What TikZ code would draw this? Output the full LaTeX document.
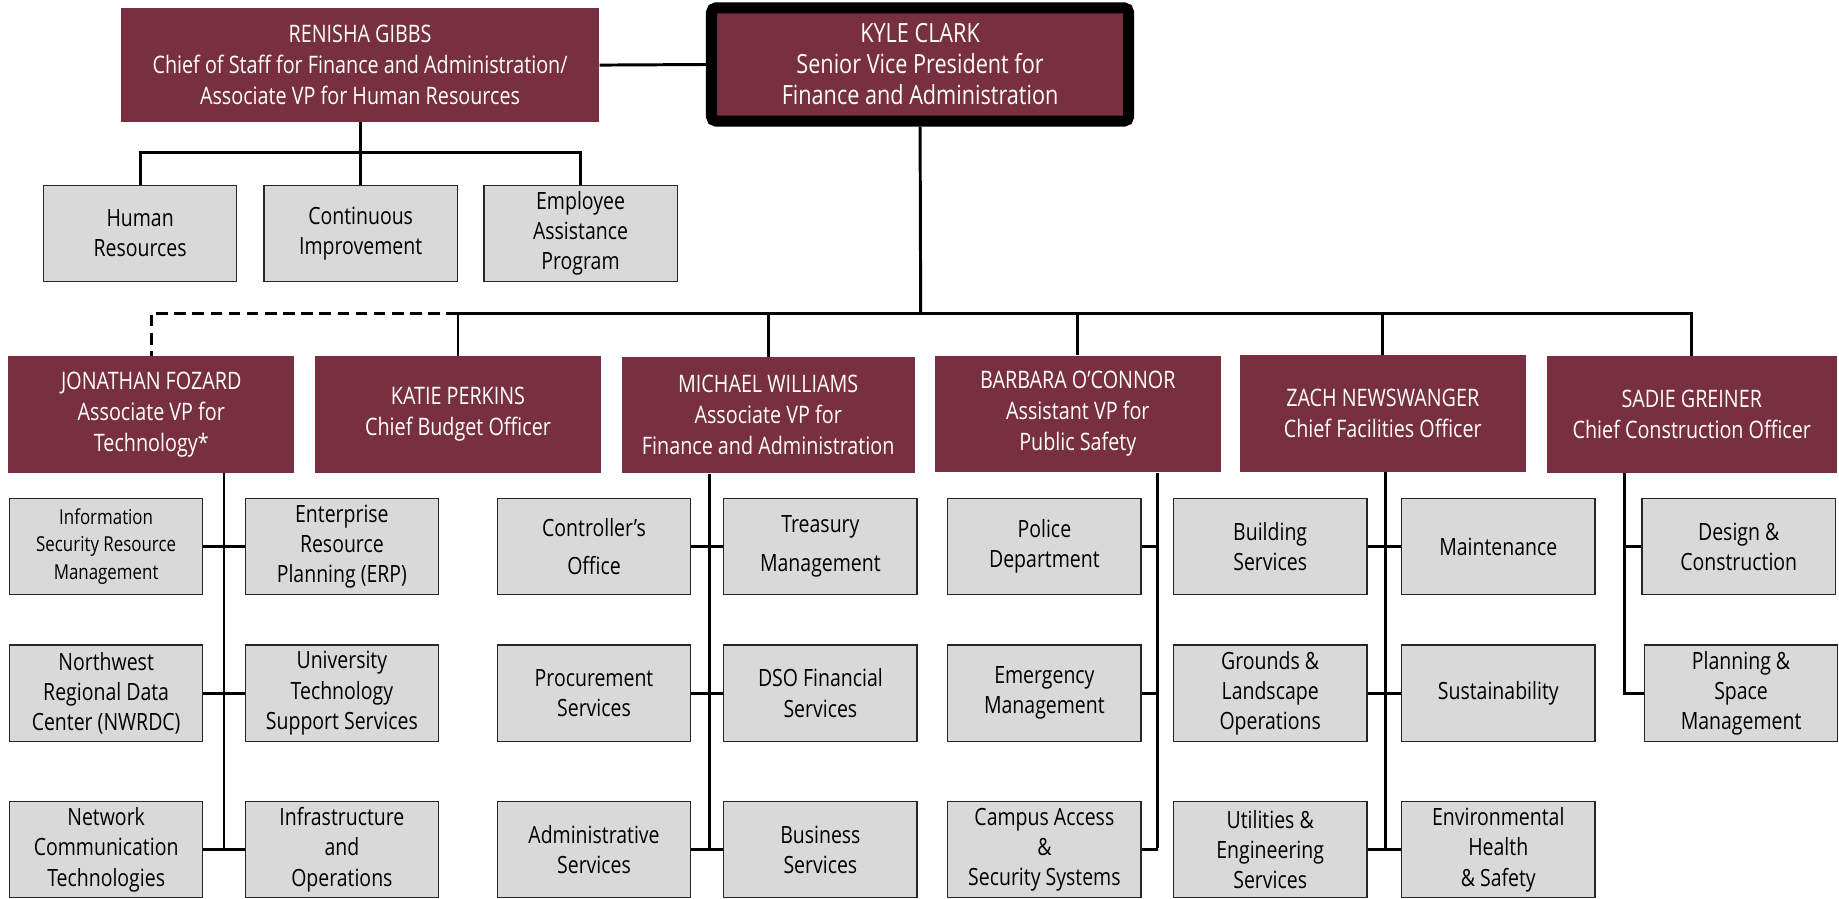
\documentclass[tikz,border=0pt]{standalone}
\usepackage{fontspec}
\setmainfont{Open Sans}[FakeStretch=0.82]
\usepackage{tikz}
\definecolor{garnet}{HTML}{782F40}
\definecolor{deptgray}{HTML}{D9D9D9}
\tikzstyle{head}=[fill=garnet,text=white,align=center,inner sep=0pt,font=\fontsize{14.6}{18.8}\selectfont]
\tikzstyle{boss}=[head,minimum width=10.2cm,minimum height=2.42cm]
\tikzstyle{svp}=[head,draw=black,line width=0.235cm,rounded corners=0.1cm,minimum width=8.89cm,minimum height=2.415cm,font=\fontsize{16}{18.8}\selectfont]
\tikzstyle{mgr}=[head,minimum width=6.1cm,minimum height=2.48cm]
\tikzstyle{dept}=[draw=black!85,fill=deptgray,line width=0.8pt,align=center,inner sep=0pt,minimum width=4.12cm,minimum height=2.05cm,font=\fontsize{14.4}{18.3}\selectfont]
\tikzstyle{link}=[line width=1.8pt,black]
\tikzstyle{dashlink}=[link,dash pattern=on 7pt off 4pt]

\begin{document}
\begin{tikzpicture}[x=0.025cm,y=-0.025cm]
\useasboundingbox (0,0) rectangle (1568,766);

% top level
\node[boss] (gibbs) at (307,55.5) {RENISHA GIBBS\\Chief of Staff for Finance and Administration/\\Associate VP for Human Resources};
\node[svp] (clark) at (784.5,55) {KYLE CLARK\\Senior Vice President for\\Finance and Administration};
\foreach \place/\name/\txt in {{(119.5,199)/hr/Human\\Resources}, {(307.5,199)/ci/Continuous\\Improvement},
  {(495,199)/eap/Employee\\Assistance\\Program}}
    \node[dept] (\name) at \place {\txt};

% managers
\foreach \place/\name/\txt in {{(129,353.5)/fozard/JONATHAN FOZARD\\Associate VP for\\Technology*},
  {(390.5,353.5)/perkins/KATIE PERKINS\\Chief Budget Officer},
  {(919,353)/oconnor/BARBARA O’CONNOR\\Assistant VP for\\Public Safety},
  {(1179,352.5)/newswanger/ZACH NEWSWANGER\\Chief Facilities Officer}}
    \node[mgr] (\name) at \place {\txt};
\node[mgr,minimum width=6.25cm] (williams) at (655,354) {MICHAEL WILLIAMS\\Associate VP for\\Finance and Administration};
\node[mgr,minimum width=6.18cm] (greiner) at (1442.5,353.5) {SADIE GREINER\\Chief Construction Officer};

% departments
\node[dept,font=\fontsize{12.5}{16.5}\selectfont] (isrm) at (90.5,466) {Information\\Security Resource\\Management};
\foreach \place/\name/\txt in {{(291.5,466)/erp/Enterprise\\Resource\\Planning (ERP)},
  {(90.5,591)/nwrdc/Northwest\\Regional Data\\Center (NWRDC)}, {(291.5,591)/its/University\\Technology\\Support Services},
  {(90.5,724.5)/nct/Network\\Communication\\Technologies}, {(291.5,724.5)/infra/Infrastructure\\and\\Operations},
  {(506.5,466)/ctrl/Controller’s\\[5pt]Office}, {(699.5,466)/treas/Treasury\\[5pt]Management},
  {(506.5,591)/proc/Procurement\\Services}, {(699.5,591)/dso/DSO Financial\\Services},
  {(506.5,724.5)/admin/Administrative\\Services}, {(699.5,724.5)/busn/Business\\Services},
  {(890.5,466)/police/Police\\Department}, {(890.5,591)/emerg/Emergency\\Management},
  {(890.5,724.5)/campus/Campus Access\\\&\\Security Systems},
  {(1083,466)/bldg/Building\\Services}, {(1277.5,466)/maint/Maintenance},
  {(1083,591)/grounds/Grounds \&\\Landscape\\Operations}, {(1277.5,591)/sust/Sustainability},
  {(1083,724.5)/util/Utilities \&\\Engineering\\Services}, {(1277.5,724.5)/ehs/Environmental\\Health\\\& Safety},
  {(1482.5,466)/design/Design \&\\Construction}, {(1484.5,591)/plan/Planning \&\\Space\\Management}}
    \node[dept] (\name) at \place {\txt};

% lines
\draw[link] (gibbs.east) -- (clark.west);
\coordinate (hrbus) at (307,130);
\draw[link] (gibbs.south) -- (hrbus);
\foreach \name in {hr,ci,eap}
  \draw[link] (hrbus) -| (\name.north);

\coordinate (bus) at (785,267);
\draw[link] (clark.south) -- (bus);
\foreach \name in {perkins,williams,oconnor,newswanger,greiner}
  \draw[link] (bus) -| (\name.north);
\draw[dashlink] (perkins.north |- bus) -| (fozard.north);

\coordinate (techspine) at (191,723);
\draw[link] (fozard.south -| techspine) -- (techspine);
\coordinate (finspine) at (605,723);
\draw[link] (williams.south -| finspine) -- (finspine);
\coordinate (facspine) at (1181,723);
\draw[link] (newswanger.south -| facspine) -- (facspine);
\foreach \source/\dest in {isrm/erp, nwrdc/its, nct/infra, ctrl/treas, proc/dso, admin/busn, bldg/maint, grounds/sust, util/ehs}
  \draw[link] (\source) -- (\dest);

\coordinate (psspine) at (987,723);
\draw[link] (oconnor.south -| psspine) -- (psspine);
\foreach \name in {police,emerg,campus}
  \draw[link] (\name.east) -- (\name.east -| psspine);

\coordinate (conspine) at (1385,591);
\draw[link] (greiner.south -| conspine) |- (plan.west);
\draw[link] (design.west) -- (design.west -| conspine);

\end{tikzpicture}
\end{document}
